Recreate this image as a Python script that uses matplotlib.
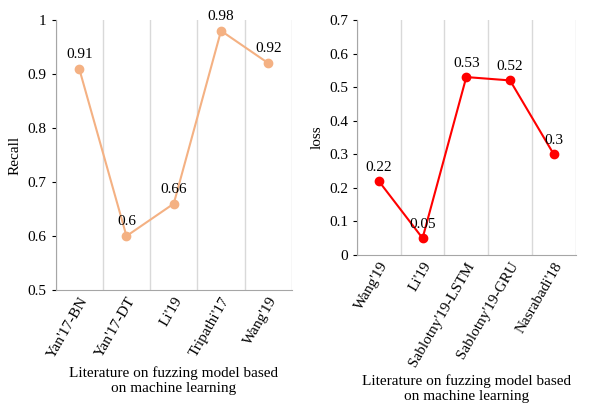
import matplotlib
matplotlib.use("Agg")
import matplotlib.pyplot as plt
import numpy as np

plt.rcParams['font.family'] = ['Liberation Serif', 'DejaVu Serif']

left_cats = ["Yan'17-BN", "Yan'17-DT", "Li'19", "Tripathi'17", "Wang'19"]
left_vals = [0.91, 0.6, 0.66, 0.98, 0.92]
right_cats = ["Wang'19", "Li'19", "Sablotny'19-LSTM", "Sablotny'19-GRU", "Nasrabadi'18"]
right_vals = [0.22, 0.05, 0.53, 0.52, 0.3]

fig = plt.figure(figsize=(5.91, 4.08), dpi=100)
ax1 = fig.add_axes([0.094, 0.289, 0.40, 0.662])
ax2 = fig.add_axes([0.604, 0.375, 0.37, 0.576])

def style(ax, cats, vals, color, ylim, yticks, ylabel, fmt):
    x = np.arange(len(cats))
    ax.plot(x, vals, color=color, lw=1.5, marker='o', ms=6, zorder=3)
    for xi, v in zip(x, vals):
        ax.text(xi, v + (ylim[1]-ylim[0])*0.03, fmt(v), ha='center', va='bottom', fontsize=11)
    ax.set_xlim(-0.5, len(cats)-0.5)
    ax.set_ylim(*ylim)
    ax.set_yticks(yticks)
    ax.set_yticklabels([f"{t:g}" for t in yticks], fontsize=11)
    ax.set_xticks(x)
    ax.set_xticklabels(cats, rotation=60, ha='right', rotation_mode='anchor', fontsize=11)
    ax.set_xticks(np.arange(-0.5, len(cats), 1), minor=True)
    ax.grid(True, which='minor', axis='x', color='#d9d9d9', lw=1)
    ax.tick_params(axis='x', which='both', length=0)
    ax.tick_params(axis='y', length=3)
    for s in ['top', 'right']:
        ax.spines[s].set_visible(False)
    for s in ['left', 'bottom']:
        ax.spines[s].set_color('#a6a6a6')
    ax.set_ylabel(ylabel, fontsize=11)
    ax.set_xlabel("Literature on fuzzing model based\non machine learning", fontsize=11)

style(ax1, left_cats, left_vals, '#f4b183', (0.5, 1.0), [0.5,0.6,0.7,0.8,0.9,1.0], 'Recall', lambda v: f"{v:g}")
style(ax2, right_cats, right_vals, '#ff0000', (0, 0.7), [0,0.1,0.2,0.3,0.4,0.5,0.6,0.7], 'loss', lambda v: f"{v:g}")

fig.savefig("out.png", dpi=100)
